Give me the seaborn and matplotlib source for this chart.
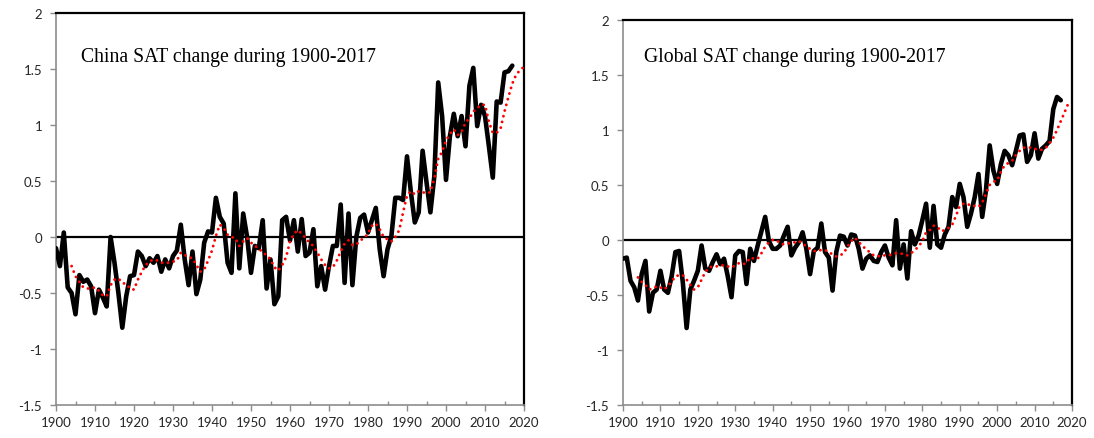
import numpy as np
import pandas as pd
import matplotlib
matplotlib.use("Agg")
import matplotlib.pyplot as plt
from matplotlib.ticker import MultipleLocator, FuncFormatter
import seaborn as sns

# ---------------- data ----------------
years = list(range(1900, 2018))

china_annual = [
    -0.10, -0.26, 0.04, -0.45, -0.50, -0.69, -0.34, -0.40, -0.38, -0.44,
    -0.68, -0.47, -0.54, -0.62, 0.00, -0.23, -0.50, -0.81, -0.53, -0.35,
    -0.34, -0.13, -0.17, -0.26, -0.19, -0.23, -0.17, -0.31, -0.20, -0.28,
    -0.17, -0.12, 0.11, -0.20, -0.43, -0.13, -0.51, -0.38, -0.05, 0.05,
    0.04, 0.35, 0.18, 0.12, -0.23, -0.32, 0.39, -0.28, 0.21, 0.00,
    -0.32, -0.08, -0.10, 0.15, -0.46, -0.20, -0.60, -0.53, 0.15, 0.18,
    -0.03, 0.15, -0.13, 0.16, -0.17, -0.14, 0.07, -0.44, -0.26, -0.47,
    -0.26, -0.08, -0.08, 0.29, -0.41, 0.21, -0.43, 0.00, 0.17, 0.20,
    0.04, 0.15, 0.26, -0.11, -0.35, -0.11, 0.01, 0.35, 0.35, 0.33,
    0.72, 0.40, 0.13, 0.22, 0.77, 0.49, 0.22, 0.54, 1.38, 1.08,
    0.51, 0.90, 1.10, 0.90, 1.08, 0.81, 1.35, 1.51, 0.99, 1.18,
    1.08, 0.81, 0.53, 1.21, 1.20, 1.47, 1.48, 1.53,
]

china_smooth_years = list(range(1904, 2021))
china_smooth = [
    -0.26, -0.35, -0.40, -0.45, -0.46, -0.46,
    -0.45, -0.48, -0.52, -0.53, -0.43, -0.38, -0.37, -0.41, -0.42, -0.46,
    -0.47, -0.38, -0.31, -0.25, -0.22, -0.20, -0.21, -0.23, -0.23, -0.23,
    -0.22, -0.21, -0.14, -0.16, -0.18, -0.19, -0.25, -0.31, -0.29, -0.21,
    -0.12, 0.01, 0.11, 0.08, 0.02, 0.00, -0.01, -0.08, -0.04, -0.01,
    -0.05, -0.08, -0.10, -0.14, -0.16, -0.20, -0.27, -0.30, -0.25, -0.18,
    -0.04, 0.03, 0.06, 0.03, -0.01, -0.05, -0.08, -0.14, -0.20, -0.25,
    -0.28, -0.27, -0.21, -0.13, -0.06, -0.03, -0.07, -0.07, -0.03, -0.01,
    0.03, 0.10, 0.12, 0.07, 0.00, -0.02, -0.04, 0.00, 0.06, 0.22,
    0.37, 0.41, 0.38, 0.41, 0.40, 0.39, 0.40, 0.52, 0.70, 0.76,
    0.86, 0.92, 0.96, 0.91, 0.94, 1.02, 1.06, 1.12, 1.15, 1.18,
    1.18, 1.03, 0.93, 0.93, 0.97, 1.12, 1.25, 1.37, 1.45, 1.49,
    1.52,
]

global_annual = [
    -0.17, -0.16, -0.37, -0.43, -0.55, -0.31, -0.19, -0.65, -0.48, -0.45,
    -0.28, -0.45, -0.48, -0.33, -0.11, -0.10, -0.39, -0.80, -0.45, -0.37,
    -0.28, -0.05, -0.26, -0.28, -0.20, -0.13, -0.22, -0.17, -0.33, -0.52,
    -0.14, -0.10, -0.11, -0.40, -0.08, -0.19, -0.05, 0.08, 0.21, -0.01,
    -0.08, -0.08, -0.05, 0.04, 0.12, -0.14, -0.07, -0.02, 0.07, -0.08,
    -0.31, -0.10, -0.07, 0.15, -0.11, -0.16, -0.46, -0.11, 0.04, 0.03,
    -0.05, 0.05, 0.04, -0.08, -0.26, -0.17, -0.14, -0.19, -0.20, -0.11,
    -0.05, -0.16, -0.23, 0.18, -0.26, -0.04, -0.35, 0.08, -0.04, 0.04,
    0.18, 0.33, -0.07, 0.31, -0.04, -0.07, 0.05, 0.12, 0.39, 0.30,
    0.51, 0.39, 0.12, 0.24, 0.39, 0.60, 0.21, 0.45, 0.86, 0.63,
    0.51, 0.69, 0.81, 0.77, 0.68, 0.81, 0.95, 0.96, 0.71, 0.77,
    0.97, 0.74, 0.83, 0.86, 0.90, 1.19, 1.30, 1.27,
]

global_smooth_years = list(range(1904, 2020))
global_smooth = [
    -0.34, -0.38, -0.41, -0.45, -0.44, -0.42,
    -0.43, -0.45, -0.42, -0.38, -0.33, -0.32, -0.32, -0.36, -0.41, -0.45,
    -0.43, -0.36, -0.29, -0.25, -0.24, -0.24, -0.23, -0.23, -0.24, -0.25,
    -0.23, -0.21, -0.22, -0.21, -0.16, -0.17, -0.17, -0.12, -0.06, -0.02,
    0.00, 0.00, -0.03, -0.04, -0.03, -0.03, -0.02, -0.01, -0.03, -0.06,
    -0.08, -0.10, -0.10, -0.09, -0.09, -0.11, -0.13, -0.15, -0.14, -0.12,
    -0.06, -0.01, 0.02, -0.02, -0.05, -0.09, -0.11, -0.14, -0.15, -0.14,
    -0.14, -0.14, -0.13, -0.12, -0.12, -0.13, -0.14, -0.12, -0.09, -0.06,
    -0.01, 0.07, 0.09, 0.13, 0.12, 0.08, 0.09, 0.11, 0.14, 0.22,
    0.31, 0.33, 0.33, 0.31, 0.31, 0.30, 0.34, 0.42, 0.50, 0.53,
    0.54, 0.62, 0.68, 0.70, 0.72, 0.77, 0.81, 0.84, 0.84, 0.84,
    0.83, 0.82, 0.82, 0.84, 0.88, 0.93, 1.00, 1.08, 1.16, 1.24,
]

titles = ["China SAT change during 1900-2017", "Global SAT change during 1900-2017"]
x_ticks = list(range(1900, 2021, 10))
y_ticks = [-1.5, -1, -0.5, 0, 0.5, 1, 1.5, 2]

# ---------------- figure ----------------
sns.set_theme(style="white")
plt.rcParams["font.family"] = ["Lato", "DejaVu Sans"]
plt.rcParams["axes.unicode_minus"] = False

fig = plt.figure(figsize=(10.94, 4.39), dpi=100)
ax1 = fig.add_axes([56 / 1094, 33 / 439, 468 / 1094, 392 / 439])
ax2 = fig.add_axes([623 / 1094, 33 / 439, 449 / 1094, 385 / 439])

panels = [
    (ax1, years, china_annual, china_smooth_years, china_smooth, titles[0], (0.053, 0.89)),
    (ax2, years, global_annual, global_smooth_years, global_smooth, titles[1], (0.046, 0.905)),
]

def fmt(v, pos):
    return "%g" % v

for ax, yrs, ann, syrs, sm, title, tpos in panels:
    ax.axhline(0, color="black", lw=1.6, zorder=1)
    df_a = pd.DataFrame({"year": yrs, "val": ann})
    df_s = pd.DataFrame({"year": syrs, "val": sm})
    sns.lineplot(data=df_a, x="year", y="val", ax=ax, color="black", lw=3.3,
                 sort=False, estimator=None, zorder=3)
    sns.lineplot(data=df_s, x="year", y="val", ax=ax, color="#FF0000", lw=2.1,
                 sort=False, estimator=None, zorder=4)
    lines = ax.get_lines()
    lines[-2].set_solid_joinstyle("round")
    lines[-2].set_solid_capstyle("round")
    lines[-1].set_linestyle((0, (0.01, 2.0)))
    lines[-1].set_dash_capstyle("round")

    ax.set_xlim(1900, 2020)
    ax.set_ylim(-1.5, 2)
    ax.set_xticks(x_ticks)
    ax.xaxis.set_minor_locator(MultipleLocator(5))
    ax.set_yticks(y_ticks)
    ax.yaxis.set_major_formatter(FuncFormatter(fmt))
    ax.set_xlabel("")
    ax.set_ylabel("")

    for side in ["left", "bottom"]:
        ax.spines[side].set_color("#8c8c8c")
        ax.spines[side].set_linewidth(1.2)
    for side in ["top", "right"]:
        ax.spines[side].set_color("black")
        ax.spines[side].set_linewidth(1.6)

    ax.tick_params(axis="y", which="major", direction="out", length=4, width=1,
                   color="#8c8c8c", labelsize=9.5, pad=6, left=True)
    ax.tick_params(axis="x", which="major", direction="out", length=4, width=1,
                   color="#8c8c8c", labelsize=9.5, pad=4, bottom=True)
    ax.tick_params(axis="x", which="minor", direction="in", length=3, width=1,
                   color="#8c8c8c", bottom=True)
    ax.grid(False)

    ax.text(tpos[0], tpos[1], title, transform=ax.transAxes, ha="left", va="center",
            fontsize=14.2, family=["Liberation Serif", "DejaVu Serif"], color="black")

fig.savefig("out.png", dpi=100)
